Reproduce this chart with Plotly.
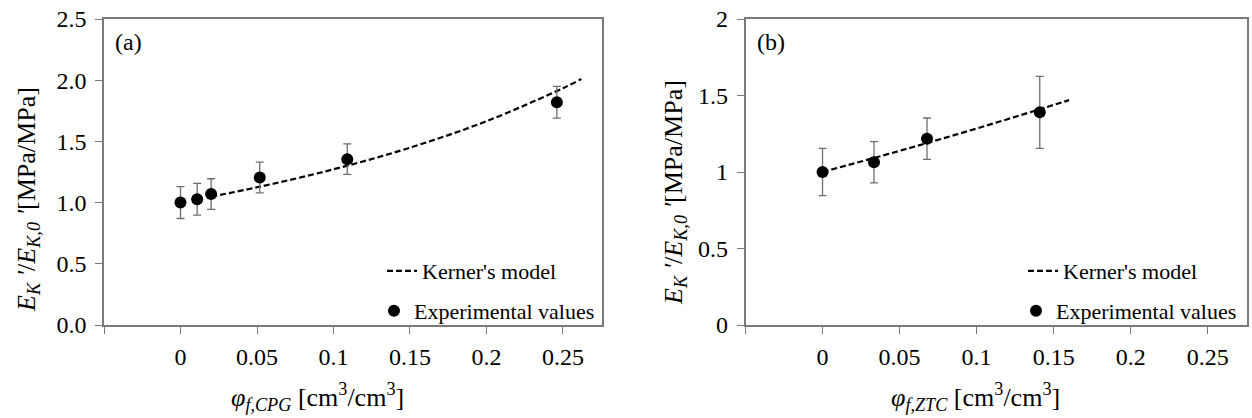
import plotly.graph_objects as go

W, H = 1252, 418

# ---------------- data ----------------
# panel (a): CPG
cpg_x = [0.0, 0.0109, 0.020, 0.0518, 0.109, 0.246]
cpg_y = [1.00, 1.027, 1.07, 1.205, 1.355, 1.82]
cpg_err = [0.13, 0.13, 0.125, 0.125, 0.125, 0.13]
cpg_model_x = [0.02, 0.05, 0.10, 0.15, 0.20, 0.25, 0.262]
cpg_model_y = [1.048, 1.125, 1.272, 1.449, 1.665, 1.935, 2.01]

# panel (b): ZTC
ztc_x = [0.0, 0.0334, 0.0678, 0.141]
ztc_y = [1.00, 1.064, 1.218, 1.39]
ztc_err = [0.155, 0.135, 0.135, 0.235]
ztc_model_x = [0.0, 0.02, 0.04, 0.06, 0.08, 0.10, 0.12, 0.14, 0.16]
ztc_model_y = [1.0, 1.055, 1.110, 1.167, 1.225, 1.284, 1.345, 1.407, 1.47]

x_tickvals = [-0.05, 0, 0.05, 0.1, 0.15, 0.2, 0.25]
x_ticktext = ["", "0", "0.05", "0.1", "0.15", "0.2", "0.25"]
ya_tickvals = [0.0, 0.5, 1.0, 1.5, 2.0, 2.5]
ya_ticktext = ["0.0", "0.5", "1.0", "1.5", "2.0", "2.5"]
yb_tickvals = [0, 0.5, 1, 1.5, 2]
yb_ticktext = ["0", "0.5", "1", "1.5", "2"]

model_name = "Kerner's model"
exp_name = "Experimental values"

FONT = "Liberation Serif"
AXC = "#7a7a7a"
ERRC = "#6e6e6e"


def px_x(p):
    return p / W


def px_y(p):
    return 1 - p / H


fig = go.Figure()

# panel a
fig.add_trace(go.Scatter(x=cpg_model_x, y=cpg_model_y, mode="lines", name=model_name,
                         line=dict(color="black", width=2.2, dash="6px,3px", shape="spline"),
                         xaxis="x", yaxis="y", legend="legend", showlegend=True, legendgroup="a1"))
fig.add_trace(go.Scatter(x=cpg_x, y=cpg_y, mode="markers", name=exp_name,
                         marker=dict(color="black", size=12, symbol="circle"),
                         error_y=dict(type="data", array=cpg_err, color=ERRC, thickness=1.3, width=4),
                         xaxis="x", yaxis="y", legend="legend2", showlegend=True, legendgroup="a2"))
# panel b
fig.add_trace(go.Scatter(x=ztc_model_x, y=ztc_model_y, mode="lines", name=model_name,
                         line=dict(color="black", width=2.2, dash="6px,3px", shape="spline"),
                         xaxis="x2", yaxis="y2", legend="legend3", showlegend=True, legendgroup="b1"))
fig.add_trace(go.Scatter(x=ztc_x, y=ztc_y, mode="markers", name=exp_name,
                         marker=dict(color="black", size=12, symbol="circle"),
                         error_y=dict(type="data", array=ztc_err, color=ERRC, thickness=1.3, width=4),
                         xaxis="x2", yaxis="y2", legend="legend4", showlegend=True, legendgroup="b2"))

xr = [-0.05, 0.2755]
common_x = dict(range=xr, tickvals=x_tickvals, ticktext=x_ticktext, ticks="outside", ticklen=7,
                tickcolor=AXC, tickwidth=1.3, showline=True, linecolor=AXC, linewidth=1.5,
                mirror=True, showgrid=False, zeroline=False, automargin=False,
                tickfont=dict(family=FONT, size=24, color="black"), ticklabelstandoff=2)
common_y = dict(ticks="outside", ticklen=7, tickcolor=AXC, tickwidth=1.3, showline=True,
                linecolor=AXC, linewidth=1.5, mirror=True, showgrid=False, zeroline=False,
                automargin=False,
                tickfont=dict(family=FONT, size=24, color="black"), ticklabelstandoff=4)

ydom = [px_y(325), px_y(19)]
fig.update_layout(
    width=W, height=H, margin=dict(l=0, r=0, t=0, b=0, autoexpand=False),
    paper_bgcolor="white", plot_bgcolor="white", showlegend=True,
    font=dict(family=FONT, color="black"),
    xaxis=dict(domain=[px_x(104), px_x(602)], anchor="y", **common_x),
    yaxis=dict(domain=ydom, anchor="x", range=[0, 2.5], tickvals=ya_tickvals, ticktext=ya_ticktext, **common_y),
    xaxis2=dict(domain=[px_x(745.5), px_x(1247)], anchor="y2", **common_x),
    yaxis2=dict(domain=ydom, anchor="x2", range=[0, 2], tickvals=yb_tickvals, ticktext=yb_ticktext, **common_y),
)

leg_common = dict(xref="paper", yref="paper", xanchor="left", yanchor="middle", visible=True,
                  bgcolor="rgba(0,0,0,0)", borderwidth=0, font=dict(family=FONT, size=22, color="black"))
fig.update_layout(
    legend=dict(x=px_x(382), y=px_y(271), **leg_common),
    legend2=dict(x=px_x(374), y=px_y(311), **leg_common),
    legend3=dict(x=px_x(1023), y=px_y(271), **leg_common),
    legend4=dict(x=px_x(1016), y=px_y(311), **leg_common),
)

ytitle = "<i>E</i><sub><i>K</i></sub><i> '</i>/<i>E</i><sub><i>K,0</i></sub><i> '</i>[MPa/MPa]"
annots = [
    dict(x=px_x(28), y=px_y(200), text=ytitle, textangle=-90),
    dict(x=px_x(675), y=px_y(193), text=ytitle, textangle=-90),
    dict(x=px_x(317), y=px_y(397), text="<i>φ</i><sub><i>f,CPG</i></sub> [cm<sup>3</sup>/cm<sup>3</sup>]"),
    dict(x=px_x(975), y=px_y(397), text="<i>φ</i><sub><i>f,ZTC</i></sub> [cm<sup>3</sup>/cm<sup>3</sup>]"),
]
for a in annots:
    fig.add_annotation(xref="paper", yref="paper", showarrow=False, xanchor="center", yanchor="middle",
                       font=dict(family=FONT, size=26, color="black"), **a)
fig.add_annotation(xref="paper", yref="paper", x=px_x(128), y=px_y(42), text="(a)", showarrow=False,
                   xanchor="center", yanchor="middle", font=dict(family=FONT, size=24, color="black"))
fig.add_annotation(xref="paper", yref="paper", x=px_x(771), y=px_y(42), text="(b)", showarrow=False,
                   xanchor="center", yanchor="middle", font=dict(family=FONT, size=24, color="black"))

fig.write_html("out.html")
